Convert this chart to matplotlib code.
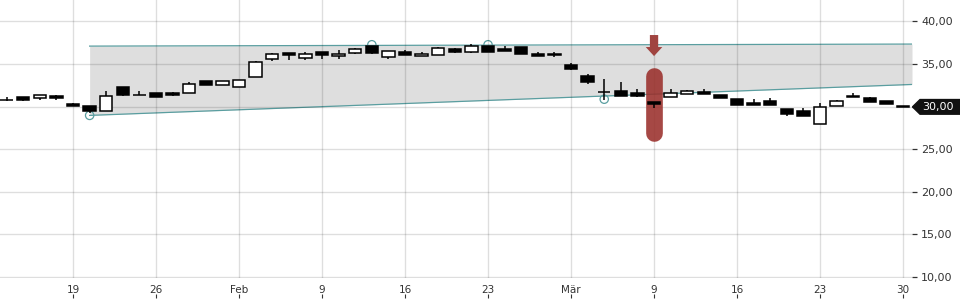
# CANDLESTICK CHART WITH TREND CHANNEL
import numpy as np
import matplotlib.pyplot as plt
import matplotlib.patches as patches
from matplotlib.transforms import blended_transform_factory

# DATA (trading days 13 Jan - 30 Mar)
opens = [30.82, 31.09, 31.02, 31.21, 30.27, 30.04, 29.53, 32.27, 31.37, 31.56,
         31.56, 31.64, 32.98, 32.47, 32.35, 33.41, 35.53, 36.31, 35.64, 36.39,
         35.88, 36.23, 37.09, 35.76, 36.39, 35.88, 36.00, 36.70, 36.43, 37.09,
         36.70, 36.94, 36.15, 36.15, 34.82, 33.64, 31.76, 31.88, 31.64, 30.58,
         31.17, 31.45, 31.68, 31.37, 30.94, 30.39, 30.62, 29.68, 29.49, 28.00,
         30.07, 31.13, 30.98, 30.62, 30.11]
highs = [31.09, 31.09, 31.41, 31.37, 30.39, 30.04, 31.84, 32.35, 31.80, 31.56,
         31.68, 32.86, 32.98, 32.98, 33.17, 35.33, 36.27, 36.31, 36.35, 36.39,
         36.58, 36.86, 37.15, 36.47, 36.66, 36.35, 36.94, 36.86, 37.29, 37.15,
         37.09, 36.94, 36.35, 36.35, 35.05, 33.80, 33.21, 32.86, 32.03, 30.58,
         32.03, 31.96, 32.11, 31.37, 30.94, 30.86, 30.98, 29.68, 29.80, 30.39,
         30.78, 31.56, 31.09, 30.62, 30.11]
lows = [30.66, 30.70, 30.78, 30.82, 30.07, 29.20, 29.45, 31.25, 31.37, 31.13,
        31.29, 31.64, 32.47, 32.47, 32.35, 33.41, 35.37, 35.49, 35.49, 35.60,
        35.60, 36.15, 36.20, 35.53, 36.08, 35.88, 36.00, 36.27, 36.31, 36.43,
        36.55, 36.19, 35.88, 35.76, 34.23, 32.66, 30.78, 31.29, 31.09, 29.84,
        31.17, 31.45, 31.52, 30.98, 30.23, 30.23, 30.19, 28.90, 28.94, 28.00,
        30.07, 31.13, 30.58, 30.35, 29.96]
closes = [30.82, 30.78, 31.41, 30.98, 30.07, 29.53, 31.29, 31.37, 31.37, 31.13,
          31.37, 32.70, 32.47, 32.98, 33.17, 35.17, 36.11, 36.00, 36.15, 36.00,
          36.15, 36.70, 36.27, 36.47, 36.08, 36.15, 36.82, 36.43, 37.09, 36.43,
          36.55, 36.19, 35.88, 36.03, 34.43, 32.82, 31.74, 31.29, 31.25, 30.35,
          31.64, 31.84, 31.52, 30.98, 30.23, 30.23, 30.19, 29.17, 28.94, 29.92,
          30.62, 31.21, 30.58, 30.35, 29.96]

tick_idx = [4, 9, 14, 19, 24, 29, 34, 39, 44, 49, 54]
tick_labels = ["19", "26", "Feb", "9", "16", "23", "Mär", "9", "16", "23", "30"]
y_ticks = [10, 15, 20, 25, 30, 35, 40]
last_price = "30,00"

# trend channel (start index, top / bottom values at start and at right edge)
chan_start = 5
chan_top = [37.09, 37.33]
chan_bot = [28.96, 32.59]

# pivot circles
pivot_idx = [5, 22, 29, 36]
pivot_val = [28.96, 37.25, 37.25, 30.86]

# signal marker
signal_idx = 39
signal_bar = [33.56, 26.84]
signal_arrow = [38.39, 35.92]

X_MIN, X_MAX = -0.40, 54.54
TEAL = '#5a9ea0'
RED = '#9a2f2b'

fig = plt.figure(figsize=(9.6, 3.0), dpi=100)
ax = fig.add_axes([0, 22 / 300, 912 / 960, 278 / 300])
ax.set_xlim(X_MIN, X_MAX)
ax.set_ylim(9.88, 42.5)

# Channel
ax.fill_between([chan_start, X_MAX], chan_bot, chan_top, color='#dedede', lw=0, zorder=0.3)
ax.plot([chan_start, X_MAX], chan_top, color=TEAL, lw=0.9, zorder=0.4)
ax.plot([chan_start, X_MAX], chan_bot, color=TEAL, lw=0.9, zorder=0.4)
ax.scatter(pivot_idx, pivot_val, s=36, facecolors='none', edgecolors=TEAL, lw=0.9, zorder=0.45)

# Grid
ax.set_axisbelow(True)
ax.set_xticks(tick_idx, tick_labels)
ax.set_yticks(y_ticks, ['' if v == 30 else f"{v},00" for v in y_ticks])
ax.grid(True, color='black', alpha=0.13, lw=1)
for s in ax.spines.values():
    s.set_visible(False)

ax.yaxis.tick_right()
ax.tick_params(axis='y', length=3.5, width=0.9, color='#333333', pad=3,
               labelsize=8, labelcolor='#333333')
ax.tick_params(axis='x', length=0, pad=5, labelsize=7.5, labelcolor='#333333')
# small tick marks under the date labels
ax.vlines(tick_idx, -0.058, -0.071, color='#333333', lw=0.8,
          transform=blended_transform_factory(ax.transData, ax.transAxes), clip_on=False)

# Signal marker (behind the candles)
ax.plot([signal_idx, signal_idx], signal_bar, color=RED, alpha=0.88, lw=12,
        solid_capstyle='round', zorder=1.8)
ax.add_patch(patches.FancyArrow(signal_idx, signal_arrow[0], 0, signal_arrow[1] - signal_arrow[0],
                                width=0.5, head_width=1.0, head_length=1.06,
                                length_includes_head=True, color='#a04440', lw=0, zorder=1.8))

# Candles
x = np.arange(len(opens))
o = np.array(opens)
c = np.array(closes)
faces = ['white' if cc >= oo else 'black' for oo, cc in zip(o, c)]
ax.vlines(x, lows, highs, color='black', lw=1.1, zorder=2)
ax.bar(x, np.abs(c - o), bottom=np.minimum(o, c), width=0.74, color=faces,
       edgecolor='black', lw=1.1, zorder=3)

# Last price tag
tr = blended_transform_factory(fig.transFigure, ax.transData)
h = 0.86
tag = patches.Polygon([(912.5 / 960, closes[-1]), (920 / 960, closes[-1] + h), (1.0, closes[-1] + h),
                       (1.0, closes[-1] - h), (920 / 960, closes[-1] - h)],
                      closed=True, color='#111111', transform=tr, clip_on=False, zorder=5)
ax.add_patch(tag)
ax.text(922 / 960, closes[-1], last_price, color='white', fontsize=8, va='center', ha='left',
        transform=tr, zorder=6)

fig.savefig('out.png', dpi=100)
